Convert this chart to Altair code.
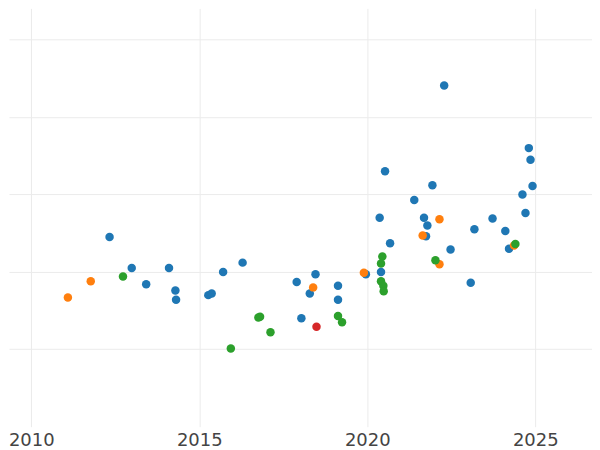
import altair as alt
import pandas as pd

# Series values (x = year, y = value in arbitrary units)
blue_x = [2012.33, 2012.99, 2013.42, 2014.10, 2014.29, 2014.31, 2015.27, 2015.37, 2015.71, 2016.29,
          2017.90, 2018.46, 2018.29, 2018.04, 2019.13, 2019.13, 2019.96, 2020.41, 2020.68, 2020.37,
          2020.53, 2021.40, 2021.69, 2021.79, 2021.75, 2021.94, 2022.29, 2022.48, 2023.08, 2023.19,
          2023.73, 2024.11, 2024.22, 2024.71, 2024.62, 2024.81, 2024.86, 2024.92]
blue_y = [2.45, 2.05, 1.84, 2.05, 1.76, 1.64, 1.70, 1.72, 2.00, 2.12,
          1.87, 1.97, 1.72, 1.40, 1.82, 1.64, 1.97, 2.00, 2.37, 2.70,
          3.30, 2.93, 2.70, 2.60, 2.46, 3.12, 4.41, 2.29, 1.86, 2.55,
          2.69, 2.53, 2.30, 2.76, 3.00, 3.60, 3.45, 3.11]

orange_x = [2011.09, 2011.77, 2018.39, 2019.90, 2021.65, 2022.15, 2022.15, 2024.37]
orange_y = [1.67, 1.88, 1.80, 1.99, 2.47, 2.68, 2.10, 2.34]

green_x = [2012.73, 2015.94, 2016.76, 2016.81, 2017.12, 2019.13, 2019.25, 2020.45, 2020.41, 2020.41,
           2020.48, 2020.49, 2022.03, 2024.41]
green_y = [1.94, 1.01, 1.41, 1.42, 1.22, 1.43, 1.35, 2.20, 2.11, 1.88,
           1.82, 1.75, 2.15, 2.36]

red_x = [2018.49]
red_y = [1.29]

groups = ["A", "B", "C", "D"]
colors = ["#1f77b4", "#ff7f0e", "#2ca02c", "#d62728"]
x_ticks = [2010, 2015, 2020, 2025]
y_grid = [1, 2, 3, 4, 5]

rows = []
for g, xs, ys in zip(groups, [blue_x, orange_x, green_x, red_x], [blue_y, orange_y, green_y, red_y]):
    for xv, yv in zip(xs, ys):
        rows.append({"year": xv, "value": yv, "group": g})
df = pd.DataFrame(rows)
df["order"] = range(len(df))

chart = alt.Chart(df).mark_circle(size=72, opacity=1).encode(
    x=alt.X("year:Q",
            scale=alt.Scale(domain=[2009.337, 2026.69], nice=False, zero=False),
            axis=alt.Axis(values=x_ticks, format="d", title=None, domain=False, ticks=False,
                          labelFontSize=18, labelColor="#444444", labelFont="DejaVu Sans",
                          labelPadding=5, gridColor="#ebebeb", gridWidth=1)),
    y=alt.Y("value:Q",
            scale=alt.Scale(domain=[0, 5.406], nice=False, zero=False),
            axis=alt.Axis(values=y_grid, title=None, domain=False, ticks=False, labels=False,
                          gridColor="#ebebeb", gridWidth=1)),
    color=alt.Color("group:N", scale=alt.Scale(domain=groups, range=colors), legend=None),
    order=alt.Order("order:Q"),
).properties(
    width=584, height=419, padding=0, background="white"
).configure_view(stroke=None)

chart.save("out.html", embed_options={"renderer": "svg", "actions": False})
